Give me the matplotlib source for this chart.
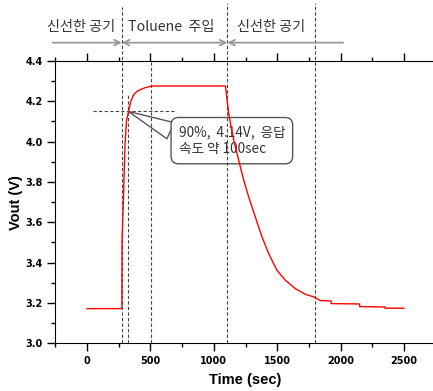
import numpy as np
import matplotlib
matplotlib.use("Agg")
import matplotlib.pyplot as plt
from matplotlib.ticker import MultipleLocator

plt.rcParams['font.family'] = ['Noto Sans CJK KR', 'DejaVu Sans']

# sensor response
time_s = [0, 275, 276, 287, 300, 312, 326, 345, 370, 400, 450, 510, 1092,
          1117, 1157, 1196, 1236, 1275, 1327, 1380, 1433, 1498, 1564, 1643,
          1722, 1788, 1840, 1925, 1925, 2150, 2150, 2350, 2350, 2500]
vout = [3.172, 3.172, 3.50, 3.71, 3.99, 4.107, 4.145, 4.20, 4.235, 4.252, 4.266, 4.276, 4.276,
        4.14, 4.008, 3.908, 3.809, 3.726, 3.627, 3.528, 3.445, 3.362, 3.313, 3.271,
        3.243, 3.23, 3.212, 3.21, 3.197, 3.195, 3.182, 3.18, 3.174, 3.174]

# marker lines
t_inject = 275
t_90 = 320
t_sat = 505
t_stop = 1107
t_recover = 1795
v_90 = 4.15

phase_labels = ['신선한 공기', 'Toluene  주입', '신선한 공기']
phase_x = [-47, 666, 1451]
arrow_x = [-270, t_inject, t_stop, 2020]
note = '90%,  4.14V,  응답\n속도 약 100sec'

fig = plt.figure(figsize=(4.33, 3.91), dpi=100)
ax = fig.add_axes([55.3 / 433, 0.122, 380.4 / 433, 0.722])

ax.plot(time_s, vout, color='red', lw=1.0, zorder=4)

dash = (0, (3, 2))
dcol = '#444444'
ax.plot([t_inject, t_inject], [3.0, 4.668], ls=dash, color=dcol, lw=0.8, clip_on=False, zorder=3)
ax.plot([t_90, t_90], [3.0, 4.24], ls=dash, color=dcol, lw=0.8, zorder=3)
ax.plot([t_sat, t_sat], [3.0, 4.4], ls=dash, color=dcol, lw=0.8, zorder=3)
ax.plot([t_stop, t_stop], [3.0, 4.688], ls=dash, color=dcol, lw=0.8, clip_on=False, zorder=3)
ax.plot([t_recover, t_recover], [3.0, 4.688], ls=dash, color=dcol, lw=0.8, clip_on=False, zorder=3)
ax.plot([50, 700], [v_90, v_90], ls=dash, color=dcol, lw=0.8, zorder=3)

# header arrows
y_arr = 4.491
gcol = '#999999'
ax.annotate('', xy=(arrow_x[1], y_arr), xytext=(arrow_x[0], y_arr), annotation_clip=False,
            arrowprops=dict(arrowstyle='->', color=gcol, lw=1.3, shrinkA=0, shrinkB=0))
ax.annotate('', xy=(arrow_x[2], y_arr), xytext=(arrow_x[1], y_arr), annotation_clip=False,
            arrowprops=dict(arrowstyle='<->', color=gcol, lw=1.3, shrinkA=0, shrinkB=0))
ax.annotate('', xy=(arrow_x[2], y_arr), xytext=(arrow_x[3], y_arr), annotation_clip=False,
            arrowprops=dict(arrowstyle='->', color=gcol, lw=1.3, shrinkA=0, shrinkB=0))
for lab, x in zip(phase_labels, phase_x):
    ax.text(x, 4.57, lab, ha='center', va='center', fontsize=10.2, color='#333333', clip_on=False)

# callout
ax.annotate(note, xy=(326, v_90), xytext=(722, 4.005), ha='left', va='center',
            fontsize=9.8, color='#333333', linespacing=1.3, zorder=2,
            bbox=dict(boxstyle='round,pad=0.55', fc='white', ec='#555555', lw=1.0),
            arrowprops=dict(arrowstyle='wedge,tail_width=1.3', fc='white', ec='#555555',
                            lw=1.0, relpos=(0.0, 0.7), shrinkA=0, shrinkB=0))

ax.set_xlim(-250, 2750)
ax.set_ylim(3.0, 4.4)
ax.xaxis.set_major_locator(MultipleLocator(500))
ax.xaxis.set_minor_locator(MultipleLocator(250))
ax.yaxis.set_minor_locator(MultipleLocator(0.1))
ax.set_yticks(np.arange(3.0, 4.41, 0.2))
ax.set_yticklabels(['%.1f' % v for v in np.arange(3.0, 4.41, 0.2)])

ax.spines['right'].set_visible(False)
ax.tick_params(which='both', direction='out', top=True, right=False, width=1.0)
ax.tick_params(which='major', length=6, pad=3)
ax.tick_params(which='minor', length=3)
for lab in ax.get_xticklabels() + ax.get_yticklabels():
    lab.set_family('DejaVu Sans')
    lab.set_fontweight('bold')
    lab.set_fontsize(7)

ax.set_xlabel('Time (sec)', family='Liberation Sans', fontweight='bold', fontsize=10.5, labelpad=5)
ax.set_ylabel('Vout (V)', family='Liberation Sans', fontweight='bold', fontsize=10.5, labelpad=2)

fig.savefig('out.png', dpi=100)
